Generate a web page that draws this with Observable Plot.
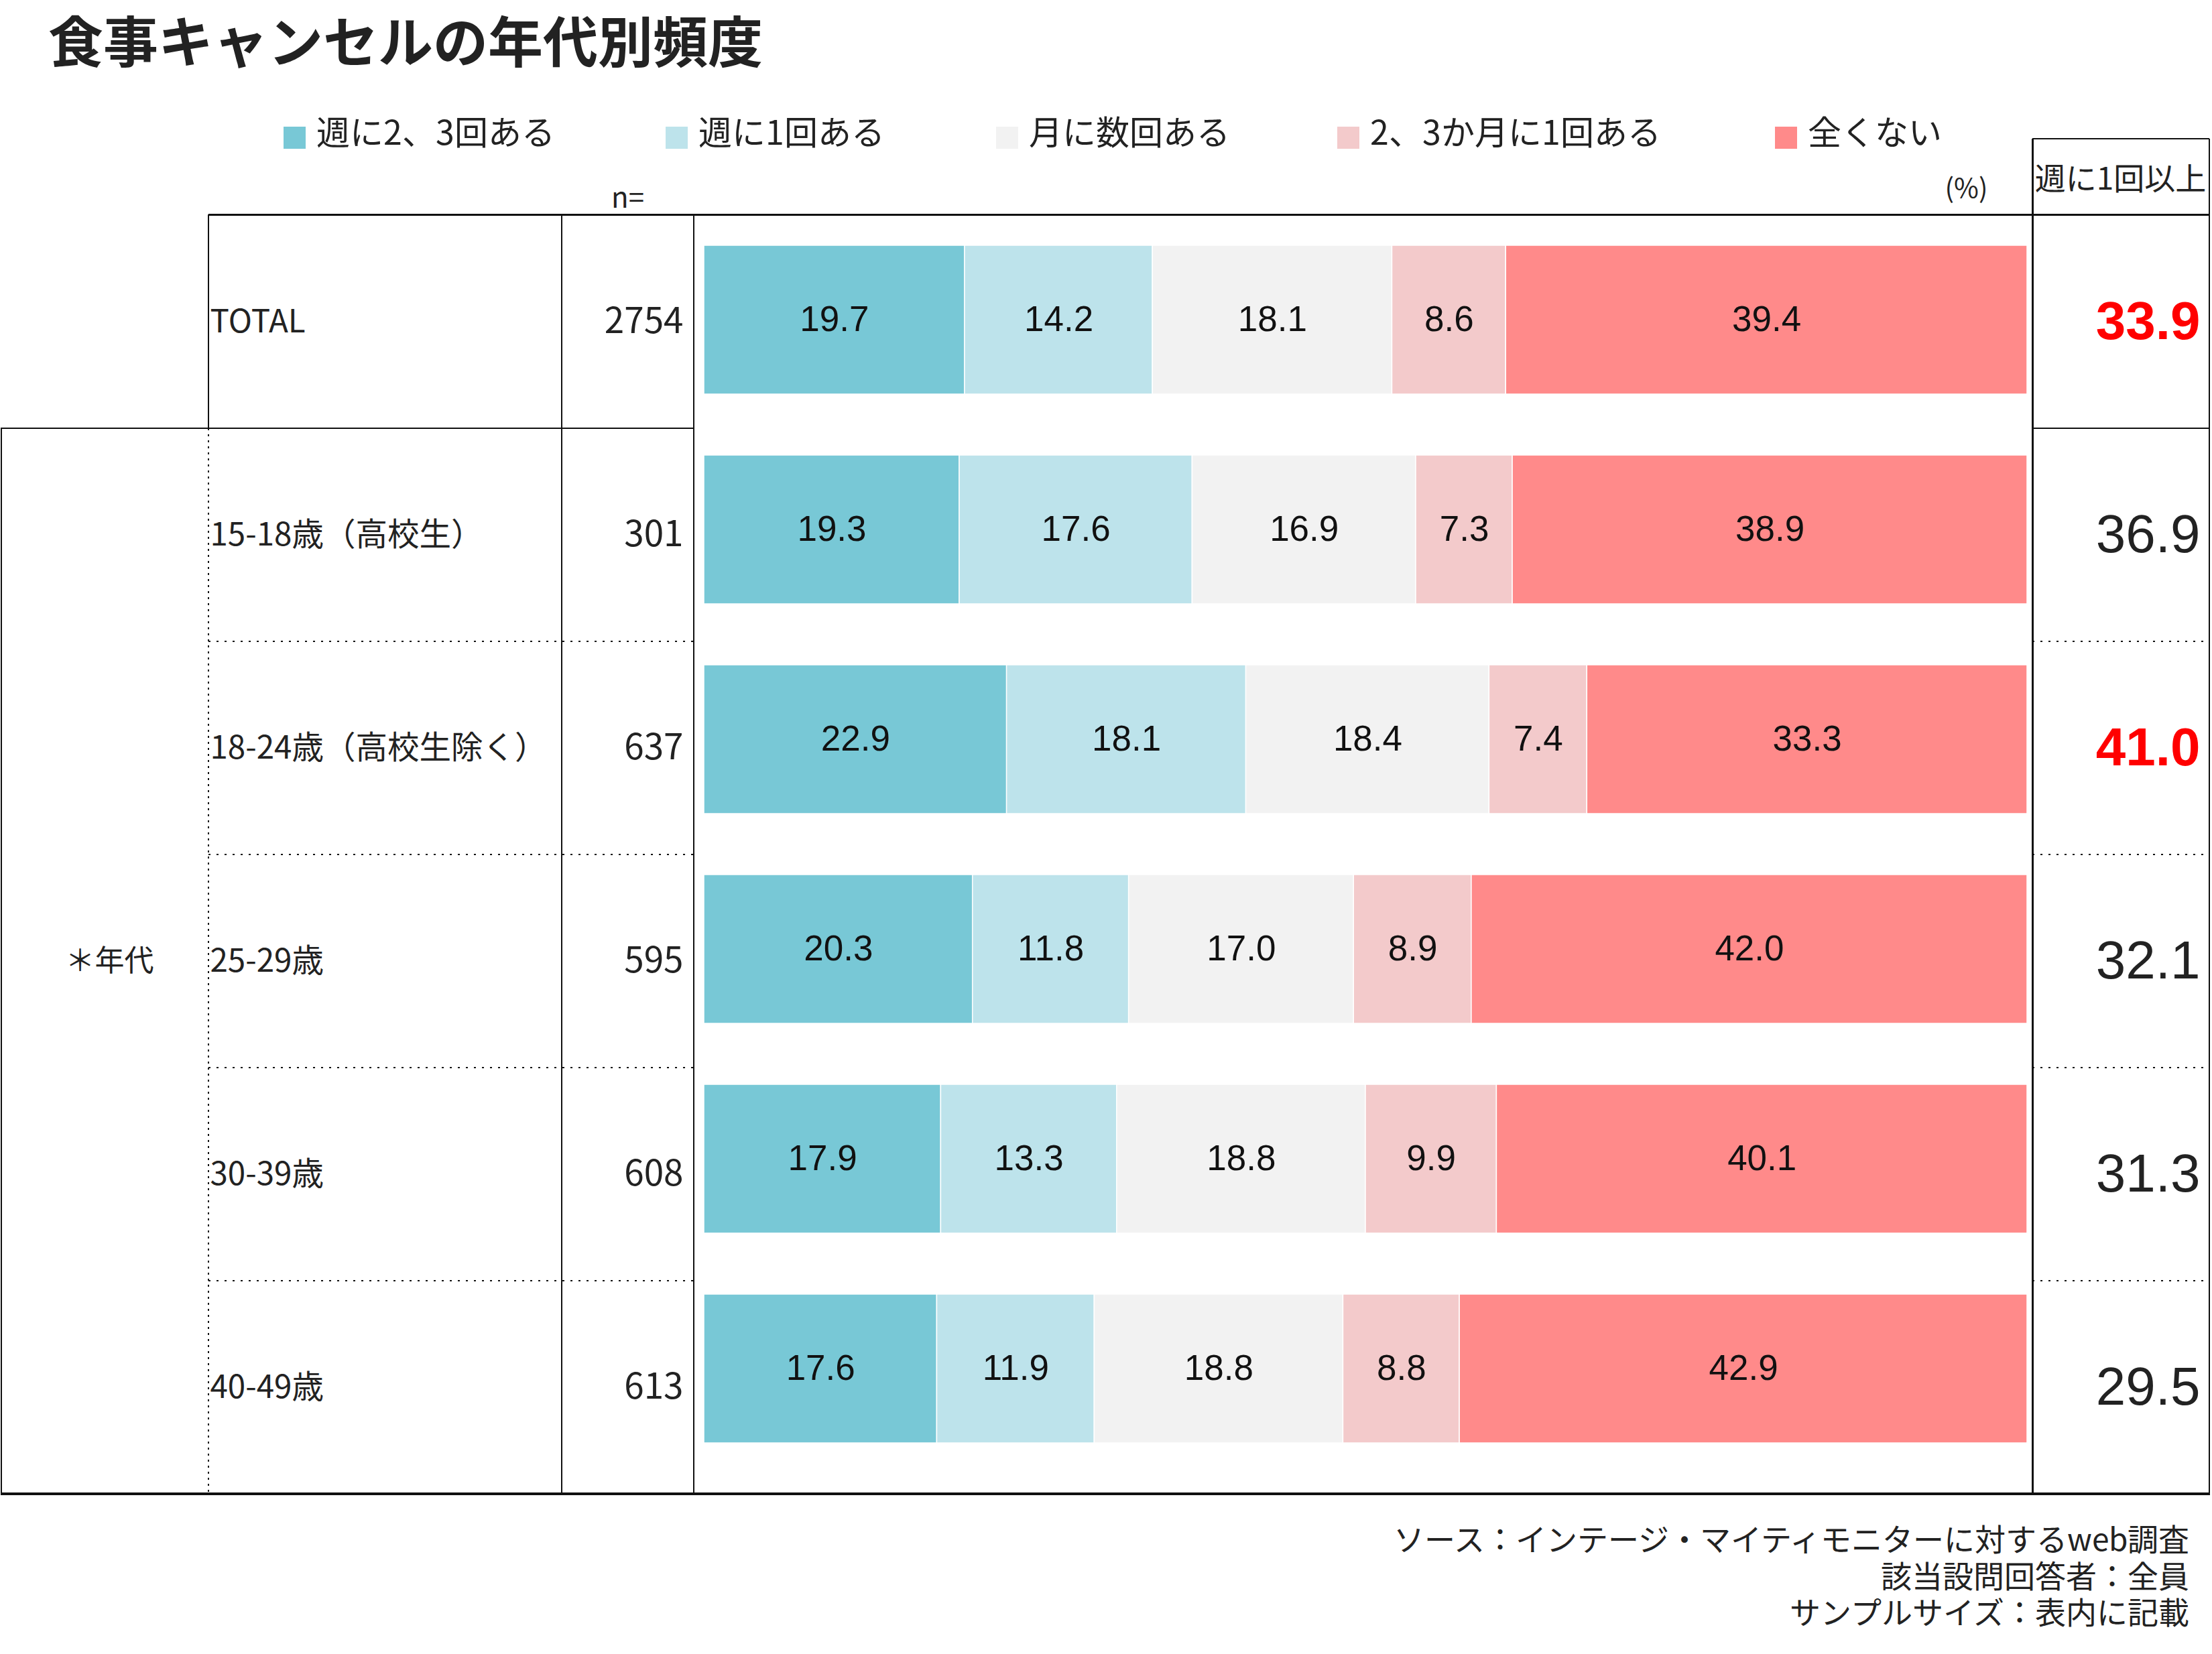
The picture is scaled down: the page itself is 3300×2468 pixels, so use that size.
<!DOCTYPE html>
<html lang="ja">
<head>
<meta charset="utf-8">
<title>食事キャンセルの年代別頻度</title>
<script src="https://cdn.jsdelivr.net/npm/d3@7"></script>
<script src="https://cdn.jsdelivr.net/npm/@observablehq/plot@0.6"></script>
<style>
  /* Noto Sans CJK JP with its line box trimmed to the ideographic em box */
  @font-face {
    font-family: "JP Tight"; font-weight: 400;
    src: local("Noto Sans CJK JP Regular"), local("NotoSansCJKjp-Regular"), local("Noto Sans CJK JP");
    ascent-override: 88%; descent-override: 12%; line-gap-override: 0%;
  }
  @font-face {
    font-family: "JP Tight"; font-weight: 700;
    src: local("Noto Sans CJK JP Bold"), local("NotoSansCJKjp-Bold");
    ascent-override: 88%; descent-override: 12%; line-gap-override: 0%;
  }
  html, body { margin: 0; padding: 0; background: #fff; }
  #page {
    position: relative; width: 3300px; height: 2468px; overflow: hidden;
    font-family: "JP Tight", "Noto Sans CJK JP", sans-serif; color: #222;
  }
  #title {
    position: absolute; left: 72px; top: 21px; margin: 0;
    font-size: 82px; font-weight: 700; line-height: 1; white-space: nowrap; color: #222;
  }
  #legend { position: absolute; left: 423px; top: 172px; z-index: 3; }
  #table, #bars { position: absolute; left: 0; top: 160px; }
  #table { z-index: 1; }
  #bars { z-index: 2; }
  #note {
    position: absolute; right: 34px; top: 2270px;
    font-size: 46px; line-height: 54.5px; text-align: right; color: #222; white-space: nowrap;
  }
  .leg-swatches {
    margin: 0 !important; font-family: "JP Tight", "Noto Sans CJK JP", sans-serif !important;
    font-size: 50px !important; line-height: 1 !important; color: #222;
  }
  .leg-swatches-wrap { flex-wrap: nowrap !important; }
  .leg-swatch { margin-right: 0 !important; white-space: nowrap; }
  .leg-swatch > svg { margin-right: 16px !important; transform: translateY(8px); }
  span.leg-swatch:nth-of-type(1) { width: 570px; }
  span.leg-swatch:nth-of-type(2) { width: 493px; }
  span.leg-swatch:nth-of-type(3) { width: 509px; }
  span.leg-swatch:nth-of-type(4) { width: 653px; }
</style>
</head>
<body>
<div id="page">
  <h1 id="title">食事キャンセルの年代別頻度</h1>
  <div id="legend"></div>
  <div id="table"></div>
  <div id="bars"></div>
  <div id="note">
    <div>ソース：インテージ・マイティモニターに対するweb調査</div>
    <div>該当設問回答者：全員</div>
    <div>サンプルサイズ：表内に記載</div>
  </div>
</div>
<script>
// Answer categories, in stacking order, and their fills
const categories = ["週に2、3回ある", "週に1回ある", "月に数回ある", "2、3か月に1回ある", "全くない"];
const palette = ["#78C8D6", "#BDE3EB", "#F2F2F2", "#F3CACB", "#FF8A8A"];

// Respondent groups (rows) and sample sizes
const groups = ["TOTAL", "15-18歳（高校生）", "18-24歳（高校生除く）", "25-29歳", "30-39歳", "40-49歳"];
const sampleSizes = [2754, 301, 637, 595, 608, 613];

// Share of each answer per group (%)
const twiceOrMorePerWeek = [19.7, 19.3, 22.9, 20.3, 17.9, 17.6];
const oncePerWeek        = [14.2, 17.6, 18.1, 11.8, 13.3, 11.9];
const fewPerMonth        = [18.1, 16.9, 18.4, 17.0, 18.8, 18.8];
const everyFewMonths     = [8.6, 7.3, 7.4, 8.9, 9.9, 8.8];
const never              = [39.4, 38.9, 33.3, 42.0, 40.1, 42.9];

// "週に1回以上" summary column, and the rows printed in red
const weeklyOrMore = [33.9, 36.9, 41.0, 32.1, 31.3, 29.5];
const highlighted = ["TOTAL", "18-24歳（高校生除く）"];

const series = [twiceOrMorePerWeek, oncePerWeek, fewPerMonth, everyFewMonths, never];
const cells = groups.flatMap((g, i) =>
  categories.map((c, j) => ({group: g, category: c, value: series[j][i]}))
);
const rows = groups.map((g, i) => ({
  group: g, n: sampleSizes[i], weekly: weeklyOrMore[i], emphasized: highlighted.includes(g)
}));

const jp = "'Noto Sans CJK JP', 'Noto Sans', sans-serif";
const latin = "'Liberation Sans', Arial, sans-serif";

// Both SVGs share the same box; coordinates below are px within it
const W = 3300, H = 2090;
const col = {outer: 1.5, label: 311, n: 838, bars: 1035, weekly: 3032, edge: 3296};
const headTop = 47;
const tableTopY = 160, tableBottomY = 2069;

document.getElementById("legend").append(
  Plot.legend({
    color: {domain: categories, range: palette},
    className: "leg",
    swatchSize: 33
  })
);

// ---- Table: one band per row, text columns and rules ----
const table = Plot.plot({
  width: W, height: H,
  marginLeft: 0, marginRight: 0, marginTop: tableTopY, marginBottom: H - tableBottomY,
  style: {background: "transparent", overflow: "visible", fontFamily: jp},
  y: {type: "band", axis: null, domain: groups, padding: 0},
  marks: [
    // row labels
    Plot.text(rows, {
      y: "group", text: "group", frameAnchor: "left", dx: col.label + 2,
      textAnchor: "start", fontSize: 47.5, fill: "#222"
    }),
    // sample sizes
    Plot.text(rows, {
      y: "group", text: d => String(d.n), frameAnchor: "left", dx: 1019,
      textAnchor: "end", fontSize: 53, fill: "#222"
    }),
    // age block label, beside the middle age row
    Plot.text(["＊年代"], {
      y: () => groups[3], text: d => d, frameAnchor: "left", dx: 97,
      textAnchor: "start", fontSize: 44, fill: "#222"
    }),
    // weekly-or-more column
    Plot.text(rows, {
      filter: d => !d.emphasized,
      y: "group", text: d => d.weekly.toFixed(1), frameAnchor: "left", dx: 3282,
      textAnchor: "end", fontFamily: latin, fontSize: 80, fill: "#222"
    }),
    Plot.text(rows, {
      filter: d => d.emphasized,
      y: "group", text: d => d.weekly.toFixed(1), frameAnchor: "left", dx: 3282,
      textAnchor: "end", fontFamily: latin, fontSize: 80, fontWeight: "bold", fill: "#FF0000"
    }),
    // column headers
    Plot.text(["n="], {
      text: d => d, frameAnchor: "top-left", dx: 936, dy: -24,
      textAnchor: "middle", lineAnchor: "middle", fontSize: 42, fill: "#222"
    }),
    Plot.text(["(%)"], {
      text: d => d, frameAnchor: "top-left", dx: 2933, dy: -38,
      textAnchor: "middle", lineAnchor: "middle", fontSize: 40, fill: "#222"
    }),
    Plot.text(["週に1回以上"], {
      text: d => d, frameAnchor: "top-left", dx: 3163, dy: -52,
      textAnchor: "middle", lineAnchor: "middle", fontSize: 46, fill: "#222"
    })
  ]
});

// Table rules, placed on the row boundaries of the table's y scale
const ys = table.scale("y");
const rowTop = g => ys.apply(g);
const tableTop = ys.range[0], tableBottom = ys.range[1];
const firstAge = rowTop(groups[1]);

const rules = d3.select(table).append("g")
  .attr("fill", "none").attr("stroke", "#111").attr("shape-rendering", "crispEdges");
function rule(x1, y1, x2, y2, width = 2, dash = null) {
  rules.append("line")
    .attr("x1", x1).attr("y1", y1).attr("x2", x2).attr("y2", y2)
    .attr("stroke-width", width)
    .attr("stroke-dasharray", dash);
}

// horizontal rules
rule(col.label, tableTop, col.edge, tableTop, 3);
rule(col.weekly, headTop, col.edge, headTop, 2.5);
rule(col.outer - 1, firstAge, col.bars, firstAge, 2);
rule(col.weekly, firstAge, col.edge, firstAge, 2.5);
for (const g of groups.slice(2)) {
  const y = rowTop(g);
  rule(col.label, y, col.bars, y, 1.5, "3 9");
  rule(col.weekly, y, col.edge, y, 1.5, "3 9");
}
rule(col.outer - 1, tableBottom, col.edge + 1, tableBottom, 4);

// vertical rules
rule(col.outer, firstAge, col.outer, tableBottom, 2);
rule(col.label, tableTop, col.label, firstAge, 2);
rule(col.label, firstAge, col.label, tableBottom, 1.5, "3 6");
rule(col.n, tableTop, col.n, tableBottom, 2);
rule(col.bars, tableTop, col.bars, tableBottom, 2);
rule(col.weekly, headTop, col.weekly, tableBottom, 3);
rule(col.edge, headTop, col.edge, tableBottom, 2.5);

document.getElementById("table").append(table);

// ---- Bars: 100% stacked, on their own slightly tighter band scale ----
const bars = Plot.plot({
  width: W, height: H,
  marginLeft: 1050, marginRight: 276, marginTop: 158.7, marginBottom: 48.5,
  style: {background: "transparent", overflow: "visible", fontFamily: jp},
  x: {axis: null, domain: [0, 1]},
  y: {axis: null, domain: groups, paddingInner: 0.29, paddingOuter: 0.145},
  color: {domain: categories, range: palette},
  marks: [
    Plot.barX(cells, Plot.stackX({
      offset: "normalize", x: "value", y: "group", fill: "category",
      stroke: "white", strokeWidth: 1.5
    })),
    // value labels centred in each segment
    Plot.text(cells, Plot.stackX({
      offset: "normalize", x: "value", y: "group",
      text: d => d.value.toFixed(1),
      fontFamily: latin, fontSize: 53, fill: "#111"
    }))
  ]
});
document.getElementById("bars").append(bars);
</script>
</body>
</html>
